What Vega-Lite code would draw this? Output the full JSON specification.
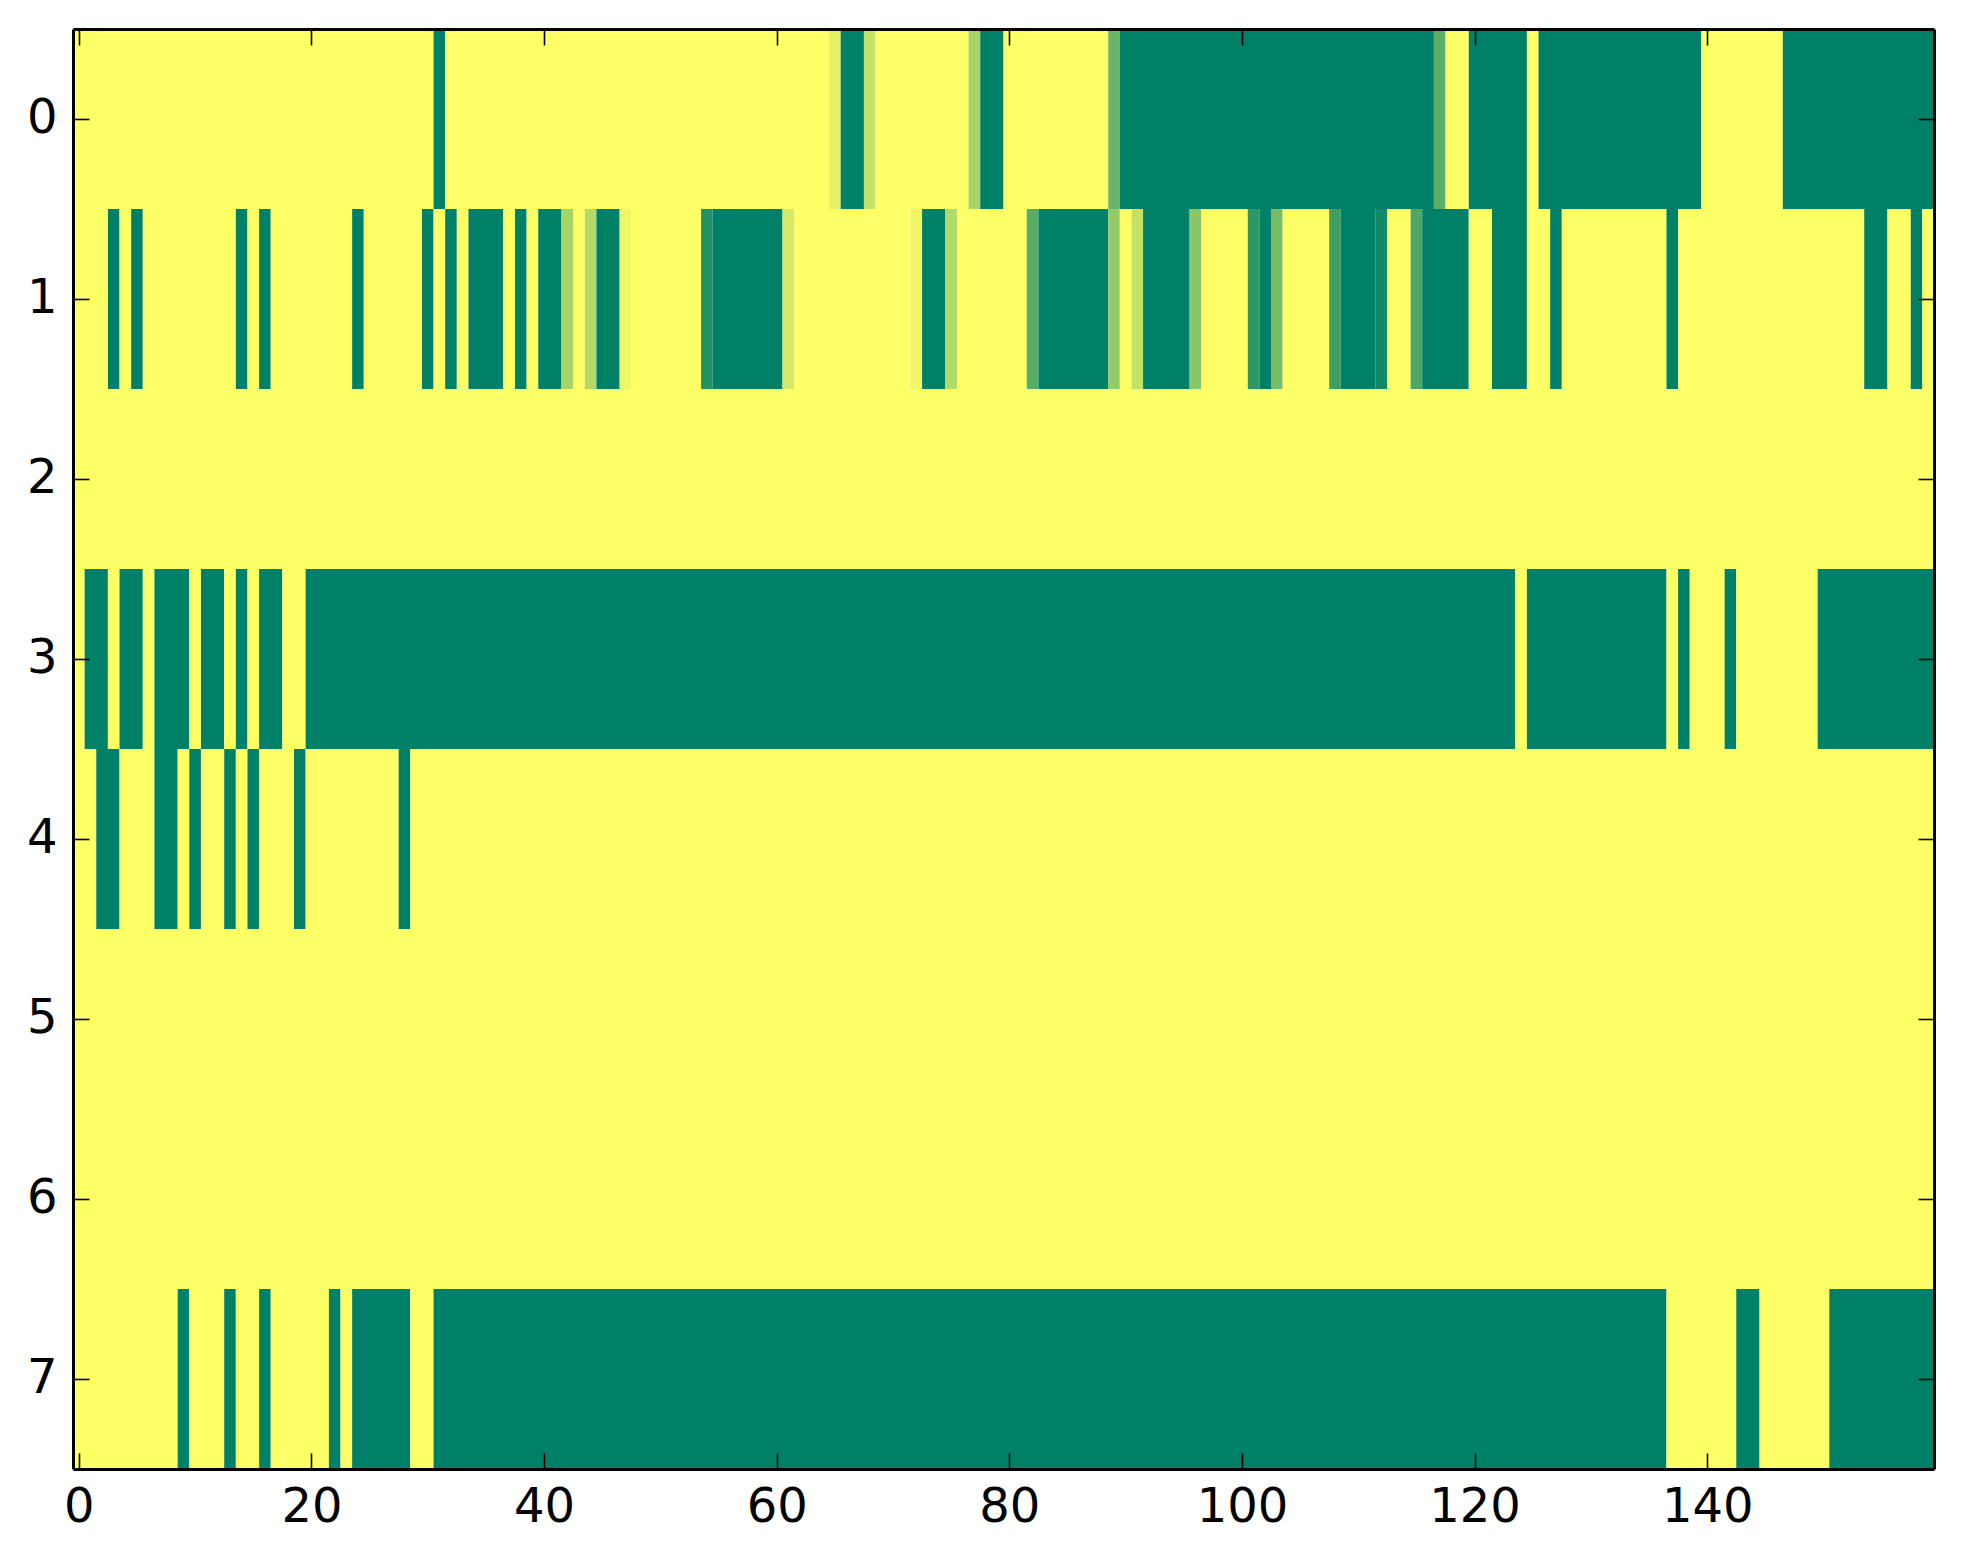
{
  "$schema": "https://vega.github.io/schema/vega-lite/v6.json",
  "width": 1861,
  "height": 1440,
  "autosize": {"type": "none"},
  "padding": {"left": 73, "top": 29, "right": 29, "bottom": 95},
  "background": "white",
  "config": {
    "view": {"stroke": null},
    "axis": {
      "grid": false,
      "title": null,
      "labelFont": "DejaVu Sans",
      "labelFontSize": 48,
      "labelColor": "black",
      "domainColor": "black",
      "domainWidth": 3,
      "tickColor": "black",
      "tickWidth": 1.6,
      "tickSize": -16
    }
  },
  "data": {
    "values": [
      {"row": 0, "x0": -0.5, "x1": 30.5, "v": 1},
      {"row": 0, "x0": 30.5, "x1": 31.5, "v": 0},
      {"row": 0, "x0": 31.5, "x1": 64.5, "v": 1},
      {"row": 0, "x0": 64.5, "x1": 65.5, "v": 0.89},
      {"row": 0, "x0": 65.5, "x1": 67.5, "v": 0},
      {"row": 0, "x0": 67.5, "x1": 68.5, "v": 0.77},
      {"row": 0, "x0": 68.5, "x1": 76.5, "v": 1},
      {"row": 0, "x0": 76.5, "x1": 77.5, "v": 0.65},
      {"row": 0, "x0": 77.5, "x1": 79.5, "v": 0},
      {"row": 0, "x0": 79.5, "x1": 88.5, "v": 1},
      {"row": 0, "x0": 88.5, "x1": 89.5, "v": 0.42},
      {"row": 0, "x0": 89.5, "x1": 116.5, "v": 0},
      {"row": 0, "x0": 116.5, "x1": 117.5, "v": 0.36},
      {"row": 0, "x0": 117.5, "x1": 119.5, "v": 1},
      {"row": 0, "x0": 119.5, "x1": 124.5, "v": 0},
      {"row": 0, "x0": 124.5, "x1": 125.5, "v": 1},
      {"row": 0, "x0": 125.5, "x1": 139.5, "v": 0},
      {"row": 0, "x0": 139.5, "x1": 146.5, "v": 1},
      {"row": 0, "x0": 146.5, "x1": 159.5, "v": 0},

      {"row": 1, "x0": -0.5, "x1": 2.5, "v": 1},
      {"row": 1, "x0": 2.5, "x1": 3.5, "v": 0},
      {"row": 1, "x0": 3.5, "x1": 4.5, "v": 1},
      {"row": 1, "x0": 4.5, "x1": 5.5, "v": 0},
      {"row": 1, "x0": 5.5, "x1": 13.5, "v": 1},
      {"row": 1, "x0": 13.5, "x1": 14.5, "v": 0},
      {"row": 1, "x0": 14.5, "x1": 15.5, "v": 1},
      {"row": 1, "x0": 15.5, "x1": 16.5, "v": 0},
      {"row": 1, "x0": 16.5, "x1": 23.5, "v": 1},
      {"row": 1, "x0": 23.5, "x1": 24.5, "v": 0},
      {"row": 1, "x0": 24.5, "x1": 29.5, "v": 1},
      {"row": 1, "x0": 29.5, "x1": 30.5, "v": 0},
      {"row": 1, "x0": 30.5, "x1": 31.5, "v": 1},
      {"row": 1, "x0": 31.5, "x1": 32.5, "v": 0},
      {"row": 1, "x0": 32.5, "x1": 33.5, "v": 1},
      {"row": 1, "x0": 33.5, "x1": 36.5, "v": 0},
      {"row": 1, "x0": 36.5, "x1": 37.5, "v": 1},
      {"row": 1, "x0": 37.5, "x1": 38.5, "v": 0},
      {"row": 1, "x0": 38.5, "x1": 39.5, "v": 1},
      {"row": 1, "x0": 39.5, "x1": 41.5, "v": 0},
      {"row": 1, "x0": 41.5, "x1": 42.5, "v": 0.66},
      {"row": 1, "x0": 42.5, "x1": 43.5, "v": 1},
      {"row": 1, "x0": 43.5, "x1": 44.5, "v": 0.7},
      {"row": 1, "x0": 44.5, "x1": 46.5, "v": 0},
      {"row": 1, "x0": 46.5, "x1": 47.5, "v": 0.94},
      {"row": 1, "x0": 47.5, "x1": 53.5, "v": 1},
      {"row": 1, "x0": 53.5, "x1": 54.5, "v": 0.13},
      {"row": 1, "x0": 54.5, "x1": 60.5, "v": 0},
      {"row": 1, "x0": 60.5, "x1": 61.5, "v": 0.83},
      {"row": 1, "x0": 61.5, "x1": 71.5, "v": 1},
      {"row": 1, "x0": 71.5, "x1": 72.5, "v": 0.94},
      {"row": 1, "x0": 72.5, "x1": 74.5, "v": 0},
      {"row": 1, "x0": 74.5, "x1": 75.5, "v": 0.7},
      {"row": 1, "x0": 75.5, "x1": 81.5, "v": 1},
      {"row": 1, "x0": 81.5, "x1": 82.5, "v": 0.35},
      {"row": 1, "x0": 82.5, "x1": 88.5, "v": 0},
      {"row": 1, "x0": 88.5, "x1": 89.5, "v": 0.58},
      {"row": 1, "x0": 89.5, "x1": 90.5, "v": 1},
      {"row": 1, "x0": 90.5, "x1": 91.5, "v": 0.77},
      {"row": 1, "x0": 91.5, "x1": 95.5, "v": 0},
      {"row": 1, "x0": 95.5, "x1": 96.5, "v": 0.54},
      {"row": 1, "x0": 96.5, "x1": 100.5, "v": 1},
      {"row": 1, "x0": 100.5, "x1": 101.5, "v": 0.18},
      {"row": 1, "x0": 101.5, "x1": 102.5, "v": 0},
      {"row": 1, "x0": 102.5, "x1": 103.5, "v": 0.47},
      {"row": 1, "x0": 103.5, "x1": 107.5, "v": 1},
      {"row": 1, "x0": 107.5, "x1": 108.5, "v": 0.24},
      {"row": 1, "x0": 108.5, "x1": 111.5, "v": 0},
      {"row": 1, "x0": 111.5, "x1": 112.5, "v": 0.07},
      {"row": 1, "x0": 112.5, "x1": 114.5, "v": 1},
      {"row": 1, "x0": 114.5, "x1": 115.5, "v": 0.31},
      {"row": 1, "x0": 115.5, "x1": 119.5, "v": 0},
      {"row": 1, "x0": 119.5, "x1": 121.5, "v": 1},
      {"row": 1, "x0": 121.5, "x1": 124.5, "v": 0},
      {"row": 1, "x0": 124.5, "x1": 126.5, "v": 1},
      {"row": 1, "x0": 126.5, "x1": 127.5, "v": 0},
      {"row": 1, "x0": 127.5, "x1": 136.5, "v": 1},
      {"row": 1, "x0": 136.5, "x1": 137.5, "v": 0},
      {"row": 1, "x0": 137.5, "x1": 153.5, "v": 1},
      {"row": 1, "x0": 153.5, "x1": 155.5, "v": 0},
      {"row": 1, "x0": 155.5, "x1": 157.5, "v": 1},
      {"row": 1, "x0": 157.5, "x1": 158.5, "v": 0},
      {"row": 1, "x0": 158.5, "x1": 159.5, "v": 1},

      {"row": 2, "x0": -0.5, "x1": 159.5, "v": 1},

      {"row": 3, "x0": -0.5, "x1": 0.5, "v": 1},
      {"row": 3, "x0": 0.5, "x1": 2.5, "v": 0},
      {"row": 3, "x0": 2.5, "x1": 3.5, "v": 1},
      {"row": 3, "x0": 3.5, "x1": 5.5, "v": 0},
      {"row": 3, "x0": 5.5, "x1": 6.5, "v": 1},
      {"row": 3, "x0": 6.5, "x1": 9.5, "v": 0},
      {"row": 3, "x0": 9.5, "x1": 10.5, "v": 1},
      {"row": 3, "x0": 10.5, "x1": 12.5, "v": 0},
      {"row": 3, "x0": 12.5, "x1": 13.5, "v": 1},
      {"row": 3, "x0": 13.5, "x1": 14.5, "v": 0},
      {"row": 3, "x0": 14.5, "x1": 15.5, "v": 1},
      {"row": 3, "x0": 15.5, "x1": 17.5, "v": 0},
      {"row": 3, "x0": 17.5, "x1": 19.5, "v": 1},
      {"row": 3, "x0": 19.5, "x1": 123.5, "v": 0},
      {"row": 3, "x0": 123.5, "x1": 124.5, "v": 1},
      {"row": 3, "x0": 124.5, "x1": 136.5, "v": 0},
      {"row": 3, "x0": 136.5, "x1": 137.5, "v": 1},
      {"row": 3, "x0": 137.5, "x1": 138.5, "v": 0},
      {"row": 3, "x0": 138.5, "x1": 141.5, "v": 1},
      {"row": 3, "x0": 141.5, "x1": 142.5, "v": 0},
      {"row": 3, "x0": 142.5, "x1": 149.5, "v": 1},
      {"row": 3, "x0": 149.5, "x1": 159.5, "v": 0},

      {"row": 4, "x0": -0.5, "x1": 1.5, "v": 1},
      {"row": 4, "x0": 1.5, "x1": 3.5, "v": 0},
      {"row": 4, "x0": 3.5, "x1": 6.5, "v": 1},
      {"row": 4, "x0": 6.5, "x1": 8.5, "v": 0},
      {"row": 4, "x0": 8.5, "x1": 9.5, "v": 1},
      {"row": 4, "x0": 9.5, "x1": 10.5, "v": 0},
      {"row": 4, "x0": 10.5, "x1": 12.5, "v": 1},
      {"row": 4, "x0": 12.5, "x1": 13.5, "v": 0},
      {"row": 4, "x0": 13.5, "x1": 14.5, "v": 1},
      {"row": 4, "x0": 14.5, "x1": 15.5, "v": 0},
      {"row": 4, "x0": 15.5, "x1": 18.5, "v": 1},
      {"row": 4, "x0": 18.5, "x1": 19.5, "v": 0},
      {"row": 4, "x0": 19.5, "x1": 27.5, "v": 1},
      {"row": 4, "x0": 27.5, "x1": 28.5, "v": 0},
      {"row": 4, "x0": 28.5, "x1": 159.5, "v": 1},

      {"row": 5, "x0": -0.5, "x1": 159.5, "v": 1},

      {"row": 6, "x0": -0.5, "x1": 159.5, "v": 1},

      {"row": 7, "x0": -0.5, "x1": 8.5, "v": 1},
      {"row": 7, "x0": 8.5, "x1": 9.5, "v": 0},
      {"row": 7, "x0": 9.5, "x1": 12.5, "v": 1},
      {"row": 7, "x0": 12.5, "x1": 13.5, "v": 0},
      {"row": 7, "x0": 13.5, "x1": 15.5, "v": 1},
      {"row": 7, "x0": 15.5, "x1": 16.5, "v": 0},
      {"row": 7, "x0": 16.5, "x1": 21.5, "v": 1},
      {"row": 7, "x0": 21.5, "x1": 22.5, "v": 0},
      {"row": 7, "x0": 22.5, "x1": 23.5, "v": 1},
      {"row": 7, "x0": 23.5, "x1": 28.5, "v": 0},
      {"row": 7, "x0": 28.5, "x1": 30.5, "v": 1},
      {"row": 7, "x0": 30.5, "x1": 136.5, "v": 0},
      {"row": 7, "x0": 136.5, "x1": 142.5, "v": 1},
      {"row": 7, "x0": 142.5, "x1": 144.5, "v": 0},
      {"row": 7, "x0": 144.5, "x1": 150.5, "v": 1},
      {"row": 7, "x0": 150.5, "x1": 159.5, "v": 0}
    ]
  },
  "layer": [
    {
      "mark": {"type": "rect", "strokeWidth": 0},
      "encoding": {
        "x": {
          "field": "x0",
          "type": "quantitative",
          "scale": {"domain": [-0.5, 159.5], "nice": false, "zero": false},
          "axis": {"orient": "bottom", "values": [0, 20, 40, 60, 80, 100, 120, 140], "labelPadding": 30, "zindex": 2}
        },
        "x2": {"field": "x1"},
        "y": {
          "field": "row",
          "type": "ordinal",
          "scale": {"domain": [0, 1, 2, 3, 4, 5, 6, 7], "paddingInner": 0, "paddingOuter": 0},
          "axis": {"orient": "left", "labelAngle": 0, "labelPadding": 32, "zindex": 2}
        },
        "color": {
          "field": "v",
          "type": "quantitative",
          "scale": {"domain": [0, 1], "range": ["#008066", "#ffff66"], "interpolate": "rgb"},
          "legend": null
        }
      }
    },
    {
      "mark": {"type": "rect", "opacity": 0},
      "encoding": {
        "x": {
          "field": "x0",
          "type": "quantitative",
          "axis": {"orient": "top", "values": [0, 20, 40, 60, 80, 100, 120, 140], "labels": false, "zindex": 2}
        },
        "x2": {"field": "x1"},
        "y": {
          "field": "row",
          "type": "ordinal",
          "axis": {"orient": "right", "labels": false, "zindex": 2}
        }
      }
    }
  ],
  "resolve": {"axis": {"x": "independent", "y": "independent"}}
}
